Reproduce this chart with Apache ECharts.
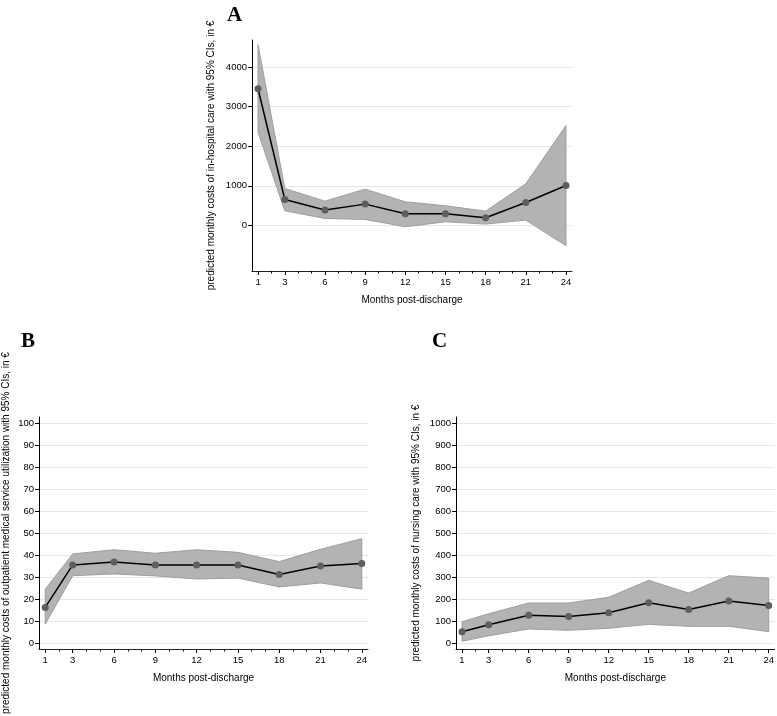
<!DOCTYPE html>
<html>
<head>
<meta charset="utf-8">
<script src="https://cdn.jsdelivr.net/npm/echarts@6/dist/echarts.min.js"></script>
<style>
  html, body { margin: 0; padding: 0; background: #fff; }
  #chartContainer { width: 777px; height: 716px; }
</style>
</head>
<body>
<div id="chartContainer"></div>
<script>
var MONTHS = [1, 3, 6, 9, 12, 15, 18, 21, 24];
var MINOR_MONTHS = [2, 4, 5, 7, 8, 10, 11, 13, 14, 16, 17, 19, 20, 22, 23];

// A: in-hospital care
var HOSP_EST  = [3450, 655, 387, 538, 294, 294, 193, 580, 1008];
var HOSP_LOW  = [2350, 370, 176, 151, -34, 92, 34, 134, -513];
var HOSP_HIGH = [4563, 933, 613, 916, 597, 496, 361, 1050, 2521];
var HOSP_TICKS = [0, 1000, 2000, 3000, 4000];

// B: outpatient medical service utilization
var OUT_EST  = [16.2, 35.5, 36.8, 35.5, 35.5, 35.5, 31.1, 35.0, 36.1];
var OUT_LOW  = [8.6, 30.6, 31.4, 30.5, 29.1, 29.5, 25.5, 27.3, 24.5];
var OUT_HIGH = [24.5, 40.5, 42.4, 40.8, 42.4, 41.2, 37.0, 42.6, 47.4];
var OUT_TICKS = [0, 10, 20, 30, 40, 50, 60, 70, 80, 90, 100];

// C: nursing care
var NURSE_EST  = [51, 83, 126, 121, 138, 183, 152, 191, 171];
var NURSE_LOW  = [8, 33, 64, 58, 67, 85, 76, 76, 52];
var NURSE_HIGH = [97, 133, 182, 182, 208, 285, 227, 306, 295];
var NURSE_TICKS = [0, 100, 200, 300, 400, 500, 600, 700, 800, 900, 1000];

var FONT = '"Liberation Sans", Arial, sans-serif';
var BAND = '#b3b3b3';
var BAND_EDGE = '#9e9e9e';

var PANELS = [
  { left: 252, top: 40, width: 320, height: 231, ymin: -1150, ymax: 4680, ticks: HOSP_TICKS, nameGap: 36,
    name: 'predicted monthly costs of in-hospital care with 95% CIs, in €',
    est: HOSP_EST, low: HOSP_LOW, high: HOSP_HIGH },
  { left: 39, top: 417, width: 329, height: 232, ymin: -2.7, ymax: 102.7, ticks: OUT_TICKS, nameGap: 28,
    name: 'predicted monthly costs of outpatient medical service utilization with 95% CIs, in €',
    est: OUT_EST, low: OUT_LOW, high: OUT_HIGH },
  { left: 456, top: 417, width: 321, height: 232, ymin: -27, ymax: 1027, ticks: NURSE_TICKS, nameGap: 35,
    name: 'predicted monthly costs of nursing care with 95% CIs, in €',
    est: NURSE_EST, low: NURSE_LOW, high: NURSE_HIGH }
];

function pairs(values) {
  return MONTHS.map((m, i) => [m, values[i]]);
}

// draws the whole confidence band as one polygon: upper edge forward, lower edge back
function bandRenderer(low, high) {
  return function (params, api) {
    if (params.dataIndex !== 0) return null;
    var pts = [];
    for (var i = 0; i < MONTHS.length; i++) pts.push(api.coord([MONTHS[i], high[i]]));
    for (var j = MONTHS.length - 1; j >= 0; j--) pts.push(api.coord([MONTHS[j], low[j]]));
    return {
      type: 'polygon',
      shape: { points: pts },
      style: { fill: BAND, stroke: BAND_EDGE, lineWidth: 1 }
    };
  };
}

var CHART_OPTION = {
  backgroundColor: '#fff',
  animation: false,
  title: [
    { text: 'A', left: 222, top: 0 },
    { text: 'B', left: 16, top: 326 },
    { text: 'C', left: 427, top: 326 }
  ].map(t => Object.assign(t, {
    textStyle: { fontFamily: '"Liberation Serif", "DejaVu Serif", serif', fontWeight: 'bold', fontSize: 21, color: '#000' }
  })),
  grid: [],
  xAxis: [],
  yAxis: [],
  series: []
};

PANELS.forEach((p, g) => {
  CHART_OPTION.grid.push({ left: p.left, top: p.top, width: p.width, height: p.height });
  // main x axis with labels
  CHART_OPTION.xAxis.push({
    type: 'value', gridIndex: g, position: 'bottom', min: 0.55, max: 24.45,
    name: 'Months post-discharge', nameLocation: 'middle', nameGap: 24,
    nameTextStyle: { fontFamily: FONT, fontSize: 10, color: '#000' },
    axisLine: { show: true, onZero: false, lineStyle: { color: '#222', width: 1 } },
    axisTick: { show: true, length: 4, customValues: MONTHS, lineStyle: { color: '#000' } },
    axisLabel: { customValues: MONTHS, fontFamily: FONT, fontSize: 9.5, color: '#000', margin: 6 },
    splitLine: { show: false }
  });
  // minor ticks
  CHART_OPTION.xAxis.push({
    type: 'value', gridIndex: g, position: 'bottom', min: 0.55, max: 24.45,
    axisLine: { show: false, onZero: false },
    axisTick: { show: true, length: 2.5, customValues: MINOR_MONTHS, lineStyle: { color: '#000' } },
    axisLabel: { show: false },
    splitLine: { show: false }
  });
  CHART_OPTION.yAxis.push({
    type: 'value', gridIndex: g, min: p.ymin, max: p.ymax,
    name: p.name, nameLocation: 'middle', nameGap: p.nameGap, nameRotate: 90,
    nameTextStyle: { fontFamily: FONT, fontSize: 10, color: '#000' },
    axisLine: { show: true, onZero: false, lineStyle: { color: '#000', width: 1 } },
    axisTick: { show: true, length: 4, customValues: p.ticks, lineStyle: { color: '#000' } },
    axisLabel: { customValues: p.ticks, formatter: v => String(v), fontFamily: FONT, fontSize: 9.5, color: '#000', margin: 5 },
    splitLine: { show: true, lineStyle: { color: '#e6e6e6', width: 1 } }
  });
  CHART_OPTION.series.push({
    type: 'custom', xAxisIndex: g * 2, yAxisIndex: g,
    data: MONTHS.map((m, i) => [m, p.low[i], p.high[i]]),
    encode: { x: 0, y: [1, 2] },
    renderItem: bandRenderer(p.low, p.high), clip: true, z: 1
  });
  CHART_OPTION.series.push({
    type: 'line', xAxisIndex: g * 2, yAxisIndex: g,
    data: pairs(p.est), symbol: 'circle', symbolSize: 7,
    itemStyle: { color: '#5e5e5e', borderWidth: 0 },
    lineStyle: { color: '#000', width: 1.5 }, z: 3
  });
});

var CHART = echarts.init(document.getElementById('chartContainer'), null, { renderer: 'canvas' });
CHART.setOption(CHART_OPTION);
</script>
</body>
</html>
